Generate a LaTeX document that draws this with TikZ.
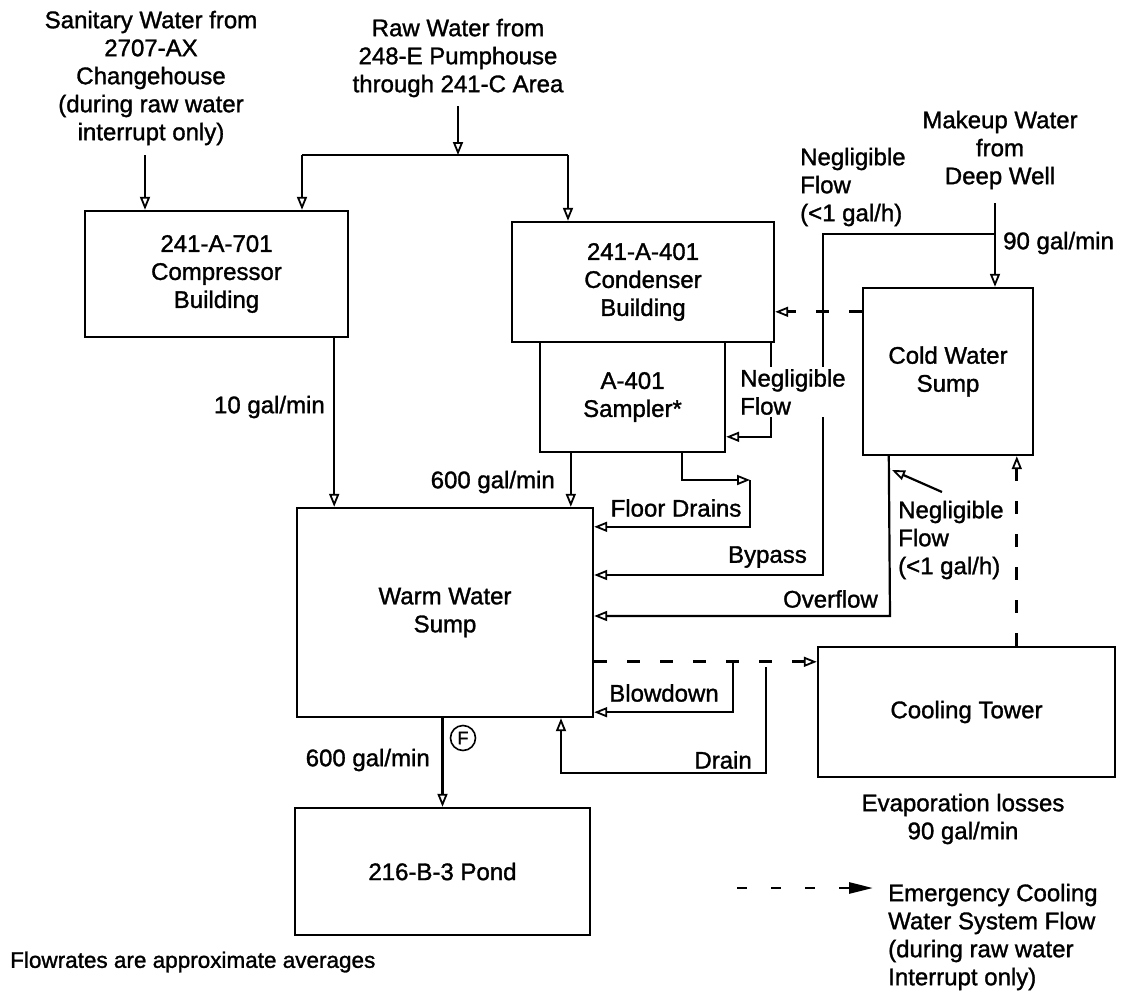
\documentclass[tikz,border=0pt]{standalone}
\usepackage{fontspec}
\setmainfont{Liberation Sans}[BoldFont={Liberation Sans}, BoldFeatures={FakeBold=1.3}]
\usetikzlibrary{arrows.meta, calc}

\begin{document}
\begin{tikzpicture}[x=1pt, y=-1pt,
    every node/.style={font=\fontsize{24}{28}\selectfont\bfseries, align=center},
    box/.style={draw, line width=2.4pt, inner sep=0pt},
    lbl/.style={inner sep=0pt},
    pipe/.style={line width=2.2pt},
    flow/.style={pipe, -{Triangle[open, length=13pt, width=10pt, line width=1.8pt]}},
    eflow/.style={line width=2.8pt, dash pattern=on 13pt off 20pt, -{Triangle[open, length=13pt, width=10pt, line width=1.8pt]}}]
    \useasboundingbox (0,0) rectangle (1127,999);

    % buildings, sumps and pond
    \node[box, minimum width=263pt, minimum height=126pt] (comp) at (216.5,274) {241-A-701\\Compressor\\Building};
    \node[box, minimum width=262pt, minimum height=120pt] (cond) at (643,282) {241-A-401\\Condenser\\Building};
    \node[box, minimum width=185pt, minimum height=110pt] (samp) at (632.5,397) {A-401\\Sampler*};
    \node[box, minimum width=296pt, minimum height=209pt] (warm) at (445,612.5) {Warm Water\\Sump};
    \node[box, minimum width=170pt, minimum height=167pt] (cold) at (948,371.5) {Cold Water\\Sump};
    \node[box, minimum width=297pt, minimum height=130pt] (tower) at (966.5,712) {Cooling Tower};
    \node[box, minimum width=295pt, minimum height=127pt] (pond) at (442.5,871.5) {216-B-3 Pond};

    % sources
    \node[lbl] (san) at (151,78) {Sanitary Water from\\2707-AX\\Changehouse\\(during raw water\\interrupt only)};
    \node[lbl] (raw) at (458,58) {Raw Water from\\248-E Pumphouse\\through 241-C Area};
    \node[lbl] (make) at (1000,150) {Makeup Water\\from\\Deep Well};

    % flow labels
    \node[lbl, anchor=west, align=left] (negtop) at (800,187) {Negligible\\Flow\\(<1 gal/h)};
    \node[lbl, anchor=west] (q90) at (1003,243) {90 gal/min};
    \node[lbl, anchor=east] (q10) at (325,407) {10 gal/min};
    \node[lbl, anchor=east] (q600a) at (555,482) {600 gal/min};
    \node[lbl] (floor) at (676,508) {Floor Drains};
    \node[lbl, anchor=east] (bypass) at (807,557) {Bypass};
    \node[lbl, anchor=east] (overflow) at (878,599) {Overflow};
    \node[lbl, anchor=west, align=left] (negcold) at (898,540) {Negligible\\Flow\\(<1 gal/h)};
    \node[lbl] (blow) at (664,693) {Blowdown};
    \node[lbl, anchor=east] (drain) at (752,760) {Drain};
    \node[lbl, anchor=east] (q600b) at (430,760) {600 gal/min};
    \node[circle, draw, line width=1.6pt, minimum size=25pt, inner sep=0pt, font=\fontsize{18}{20}\selectfont\bfseries] (fmark) at (463,738) {F};
    \node[lbl] (evap) at (963,819) {Evaporation losses\\90 gal/min};

    % free ends
    \coordinate (sanS) at (145,155);
    \coordinate (rawS) at (458,106);
    \coordinate (rawL) at (302,155);
    \coordinate (rawR) at (568,155);
    \coordinate (compOut) at ([xshift=-15pt]comp.south east);
    \coordinate (sampOut) at ([xshift=32pt]samp.south west);
    \coordinate (fdA) at ([xshift=143pt]samp.south west);
    \coordinate (fdB) at (750,480);
    \coordinate (ngA) at ([xshift=-4pt]cond.south east);
    \coordinate (mkS) at (995,203);
    \coordinate (bpT) at (823,234);
    \coordinate (bpB) at (823,575);
    \coordinate (ecA) at ($(cold.north west)+(0,25)$);
    \coordinate (ovT) at ($(cold.south west)+(27,0)$);
    \coordinate (ovB) at (890,616);
    \coordinate (nsA) at (942,492);
    \coordinate (nsB) at (892,470);
    \coordinate (emA) at ($(warm.north east)+(0,155)$);
    \coordinate (bdA) at (733,663);
    \coordinate (drA) at (766,667);
    \coordinate (drC) at (561,773);
    \coordinate (tcA) at ($(tower.north west)+(200,0)$);

    % connectors
    \draw[flow] (sanS) -- (sanS |- comp.north);
    \draw[flow] (rawS) -- (rawS |- rawL);
    \draw[pipe] (rawL) -- (rawR);
    \draw[flow] (rawL) -- (rawL |- comp.north);
    \draw[flow] (rawR) -- (rawR |- cond.north);
    \draw[flow] (compOut) -- (compOut |- warm.north);
    \draw[flow] (sampOut) -- (sampOut |- warm.north);
    \draw[flow] (fdA) |- (fdB);
    \draw[flow] (fdB) |- ($(warm.north east)+(0,20)$);
    \draw[flow] (ngA) |- ($(samp.north east)+(0,96)$);
    \draw[flow] (mkS) -- (mkS |- cold.north);
    \draw[flow] (mkS |- bpT) -- (bpT) -- (bpB) -- (bpB -| warm.east);
    \draw[eflow] (ecA) -- (ecA -| cond.east);
    \draw[flow] (ovT) -- (ovB) -- (ovB -| warm.east);
    \draw[flow] (nsA) -- (nsB);
    \draw[eflow] (emA) -- (emA -| tower.west);
    \draw[flow] (bdA) |- ($(warm.south east)+(0,-6)$);
    \draw[flow] (drA) |- (drC) -- (drC |- warm.south);
    \draw[flow] (warm.south -| pond.north) -- (pond.north);
    \draw[eflow] (tcA) -- (tcA |- cold.south);

    % label over the crossing lines
    \node[lbl, anchor=west, align=left, fill=white, inner sep=2pt] (negmid) at (738,392) {Negligible\\Flow};

    % legend and note
    \coordinate (lgA) at (737,888);
    \coordinate (lgB) at (873,888);
    \draw[line width=2.8pt, dash pattern=on 10pt off 24pt, -{Triangle[length=24pt, width=11pt]}] (lgA) -- (lgB);
    \node[lbl, anchor=west, align=left] (legend) at (888,937) {Emergency Cooling\\Water System Flow\\(during raw water\\Interrupt only)};
    \node[lbl, anchor=west, font=\fontsize{22.5}{27}\selectfont\bfseries] (note) at (10,962) {Flowrates are approximate averages};
\end{tikzpicture}
\end{document}
